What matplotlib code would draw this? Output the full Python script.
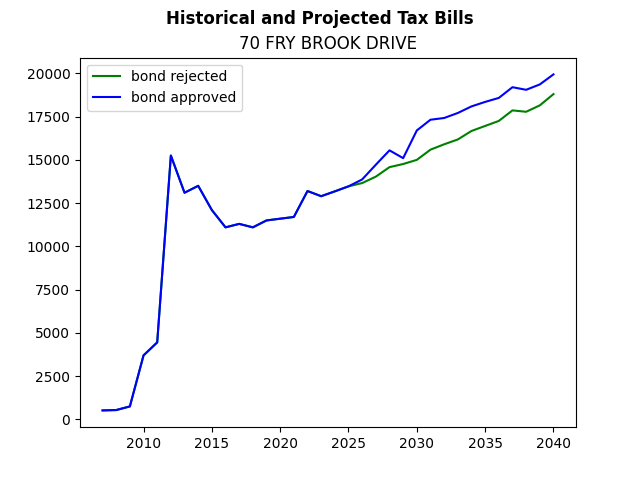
import matplotlib
matplotlib.use("Agg")
import matplotlib.pyplot as plt

years = list(range(2007, 2041))
bond_rejected = [520, 540, 750, 3700, 4450, 15250, 13100, 13500, 12100, 11100,
                 11300, 11100, 11500, 11600, 11700, 13200, 12900, 13180, 13470, 13660,
                 14030, 14580, 14760, 15000, 15590, 15900, 16180, 16670, 16960, 17250,
                 17860, 17780, 18150, 18800]
bond_approved = [520, 540, 750, 3700, 4450, 15250, 13100, 13500, 12100, 11100,
                 11300, 11100, 11500, 11600, 11700, 13200, 12900, 13180, 13470, 13870,
                 14720, 15550, 15100, 16700, 17320, 17420, 17710, 18090, 18350, 18580,
                 19200, 19050, 19360, 19940]

fig, ax = plt.subplots(figsize=(6.4, 4.8), dpi=100)
ax.plot(years, bond_rejected, color="green", label="bond rejected")
ax.plot(years, bond_approved, color="blue", label="bond approved")
ax.set_title("70 FRY BROOK DRIVE")
fig.suptitle("Historical and Projected Tax Bills", fontweight="bold")
ax.legend(loc="upper left")
fig.savefig("out.png")
